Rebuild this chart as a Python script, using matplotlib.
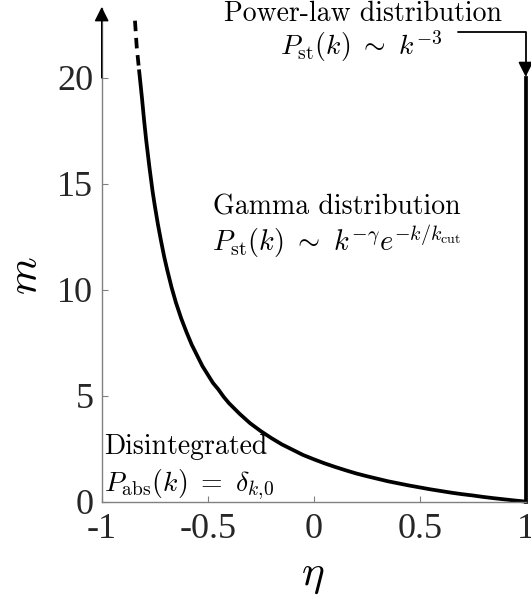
import matplotlib
matplotlib.use("Agg")
import matplotlib.pyplot as plt

plt.rcParams['mathtext.fontset'] = 'cm'
plt.rcParams['axes.unicode_minus'] = False

# phase boundary
eta_solid = [-0.824, -0.81, -0.80, -0.79, -0.775, -0.76, -0.75, -0.735, -0.72, -0.705,
             -0.69, -0.67, -0.65, -0.625, -0.60, -0.575, -0.55, -0.525, -0.50, -0.475,
             -0.45, -0.425, -0.40, -0.35, -0.30, -0.25, -0.20, -0.15, -0.10, -0.05,
             0.0, 0.05, 0.10, 0.15, 0.20, 0.25, 0.30, 0.35, 0.40, 0.45,
             0.50, 0.55, 0.60, 0.65, 0.70, 0.75, 0.80, 0.85, 0.90, 0.95, 1.0]
m_solid = [20.4, 19.05, 18.0, 17.05, 15.8, 14.65, 14.0, 13.1, 12.3, 11.55,
           10.9, 10.1, 9.4, 8.65, 8.0, 7.4, 6.9, 6.4, 6.0, 5.6,
           5.3, 4.95, 4.65, 4.15, 3.7, 3.33, 3.0, 2.7, 2.45, 2.2,
           2.0, 1.81, 1.64, 1.48, 1.33, 1.2, 1.08, 0.96, 0.86, 0.76,
           0.67, 0.58, 0.5, 0.42, 0.35, 0.29, 0.22, 0.16, 0.105, 0.05, 0.0]
eta_dash = [-0.843, -0.835, -0.824]
m_dash = [22.7, 21.5, 20.4]
eta_wall = [1.0, 1.0]
m_wall = [0.0, 20.0]

xticks = [-1, -0.5, 0, 0.5, 1]
xticklabels = ['-1', '-0.5', '0', '0.5', '1']
yticks = [0, 5, 10, 15, 20]
yticklabels = ['0', '5', '10', '15', '20']

fig = plt.figure(figsize=(5.31, 6.0), dpi=100)
ax = fig.add_axes([0.1915, 0.164, 0.7985, 0.8227])

ax.plot(eta_solid, m_solid, color='black', lw=2.7, solid_capstyle='butt',
        solid_joinstyle='round', clip_on=False)
ax.plot(eta_dash, m_dash, color='black', lw=2.7, ls=(0, (2.8, 1.8)), clip_on=False)
ax.plot(eta_wall, m_wall, color='black', lw=2.7, clip_on=False)

ax.set_xlim(-1, 1)
ax.set_ylim(0, 23.3)

for s in ['top', 'right']:
    ax.spines[s].set_visible(False)
for s in ['left', 'bottom']:
    ax.spines[s].set_color('#808080')
    ax.spines[s].set_linewidth(1.0)

ax.set_xticks(xticks)
ax.set_xticklabels(xticklabels)
ax.set_yticks(yticks)
ax.set_yticklabels(yticklabels)
ax.tick_params(direction='in', length=4, width=0.8, color='#808080',
               labelcolor='#262626', labelsize=26)
ax.tick_params(axis='x', pad=8)
ax.tick_params(axis='y', pad=6)
for lab in ax.get_xticklabels() + ax.get_yticklabels():
    lab.set_fontfamily('Liberation Serif')

ax.set_xlabel(r'$\eta$', fontsize=31)
ax.set_ylabel(r'$m$', fontsize=31)
ax.xaxis.set_label_coords(0.498, -0.148)
ax.yaxis.set_label_coords(-0.181, 0.457)
ax.xaxis.label.set_va('center')
ax.yaxis.label.set_va('center')

# axis arrow
ax.annotate('', xy=(-1, 23.35), xytext=(-1, 20.0), xycoords='data',
            arrowprops=dict(arrowstyle='-|>', color='black', lw=1.0,
                            mutation_scale=22, shrinkA=0, shrinkB=0),
            annotation_clip=False)

# annotations
ax.text(0.233, 23.0, 'Power-law distribution', fontfamily='cmr10', fontsize=20,
        ha='center', va='center')
ax.text(0.223, 21.5, r'$P_{\rm st}(k)\ \sim\ k^{-3}$', fontsize=20,
        ha='center', va='center')
ax.annotate('', xy=(1.0, 20.05), xytext=(0.683, 22.15),
            arrowprops=dict(arrowstyle='-|>', color='black', lw=1.3,
                            mutation_scale=22, shrinkA=0, shrinkB=0,
                            connectionstyle='angle,angleA=0,angleB=90,rad=0'),
            annotation_clip=False)

ax.text(0.108, 13.9, 'Gamma distribution', fontfamily='cmr10', fontsize=20,
        ha='center', va='center')
ax.text(0.108, 12.3, r'$P_{\rm st}(k)\ \sim\ k^{-\gamma} e^{-k/k_{\rm cut}}$', fontsize=20.5,
        ha='center', va='center')

ax.text(-0.99, 2.58, 'Disintegrated', fontfamily='cmr10', fontsize=20,
        ha='left', va='center')
ax.text(-0.99, 0.8, r'$P_{\rm abs}(k)\ =\ \delta_{k,\!0}$', fontsize=20,
        ha='left', va='center')

fig.savefig('out.png', dpi=100)
